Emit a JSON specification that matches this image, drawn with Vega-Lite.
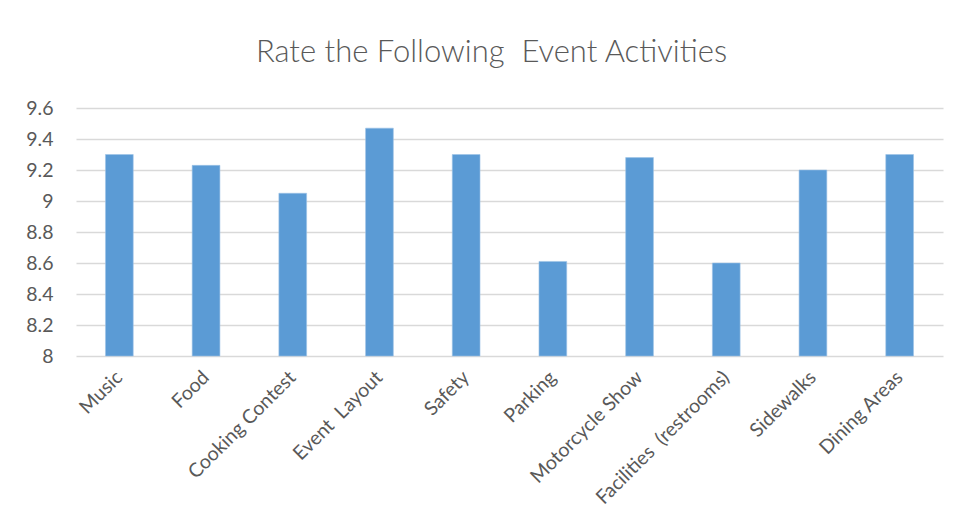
{
  "$schema": "https://vega.github.io/schema/vega-lite/v6.json",
  "width": 867,
  "height": 248,
  "autosize": {"type": "none"},
  "padding": {"left": 76, "top": 108, "right": 34, "bottom": 173},
  "background": "white",
  "title": {
    "text": "Rate the Following \u00a0Event Activities",
    "font": "Lato",
    "fontWeight": 300,
    "fontSize": 31,
    "color": "#595959",
    "anchor": "middle",
    "dx": -18,
    "offset": 29
  },
  "data": {
    "values": [
      {"activity": "Music", "rating": 9.30},
      {"activity": "Food", "rating": 9.23},
      {"activity": "Cooking Contest", "rating": 9.05},
      {"activity": "Event \u00a0Layout", "rating": 9.47},
      {"activity": "Safety", "rating": 9.30},
      {"activity": "Parking", "rating": 8.61},
      {"activity": "Motorcycle Show", "rating": 9.28},
      {"activity": "Facilities \u00a0(restrooms)", "rating": 8.60},
      {"activity": "Sidewalks", "rating": 9.20},
      {"activity": "Dining Areas", "rating": 9.30}
    ]
  },
  "mark": {"type": "bar", "color": "#5B9BD5", "stroke": "#9DC3E6", "strokeWidth": 0.6},
  "encoding": {
    "x": {
      "field": "activity",
      "type": "nominal",
      "sort": null,
      "scale": {"paddingInner": 0.68, "paddingOuter": 0.34},
      "axis": {
        "title": null,
        "domain": false,
        "ticks": false,
        "labelAngle": -45,
        "labelAlign": "right",
        "labelBaseline": "middle",
        "labelPadding": 18,
        "labelFont": "Lato",
        "labelFontSize": 19.5,
        "labelColor": "#595959",
        "labelLimit": 300
      }
    },
    "y": {
      "field": "rating",
      "type": "quantitative",
      "scale": {"domain": [8, 9.6], "zero": false, "nice": false},
      "axis": {
        "title": null,
        "domain": false,
        "ticks": false,
        "values": [8, 8.2, 8.4, 8.6, 8.8, 9, 9.2, 9.4, 9.6],
        "format": "~g",
        "labelPadding": 23,
        "labelFont": "Lato",
        "labelFontSize": 19.5,
        "labelColor": "#595959",
        "gridColor": "#D9D9D9",
        "gridWidth": 1.5
      }
    },
    "y2": {"datum": 8}
  },
  "config": {"view": {"stroke": null}}
}
